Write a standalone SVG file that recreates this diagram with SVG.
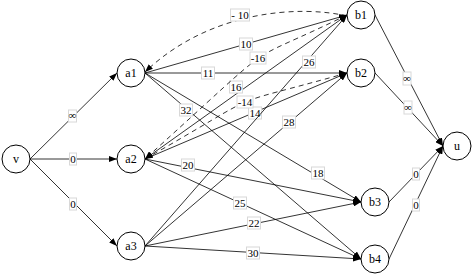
<svg xmlns="http://www.w3.org/2000/svg" width="473" height="277" viewBox="0 0 473 277">
<style>
.n circle{fill:#fff;stroke:#000;stroke-width:1}
.n text{font-family:"Liberation Serif","Times New Roman",serif;font-size:12px;text-anchor:middle;fill:#000}
.e path{fill:none;stroke:#000;stroke-width:0.8;marker-end:url(#ah)}
.e .d{stroke-dasharray:5,4}
.e rect{fill:#fff;stroke:#d8d8d8;stroke-width:1}
.e text{font-family:"Liberation Serif","Times New Roman",serif;font-size:11px;text-anchor:middle;fill:#000}
</style>
<defs>
<marker id="ah" viewBox="0 0 8 6" refX="8" refY="3" markerWidth="8" markerHeight="6" markerUnits="userSpaceOnUse" orient="auto"><path d="M0,0L8,3L0,6z" fill="#000" stroke="none"/></marker>
</defs>
<rect width="473" height="277" fill="#fff"/>
<g id="connectors" class="e">
<g><path d="M30,159L117,73"/><rect x="68.5" y="110" width="8" height="12"/><text x="72.5" y="119">∞</text></g>
<g><path d="M30,159L117,159"/><rect x="69.5" y="153" width="7" height="12"/><text x="73" y="163">0</text></g>
<g><path d="M30,159L117,246"/><rect x="69.5" y="198" width="7" height="12"/><text x="73" y="208">0</text></g>
<g><path d="M145,73L347,15"/><rect x="239.5" y="38" width="13" height="12"/><text x="246" y="48">10</text></g>
<g><path d="M145,73L347,73"/><rect x="201.5" y="67" width="13" height="12"/><text x="208" y="77">11</text></g>
<g><path d="M145,73L361,202"/><rect x="311.5" y="167" width="13" height="12"/><text x="318" y="177">18</text></g>
<g><path d="M145,73L361,259"/><rect x="179.5" y="104" width="13" height="12"/><text x="186" y="114">32</text></g>
<g><path d="M145,159L347,15"/><rect x="229.5" y="81" width="13" height="12"/><text x="236" y="91">16</text></g>
<g><path d="M145,159L347,73"/><rect x="248.5" y="107" width="13" height="12"/><text x="255" y="117">14</text></g>
<g><path d="M145,159L361,202"/><rect x="181.5" y="159" width="13" height="12"/><text x="188" y="169">20</text></g>
<g><path d="M145,159L361,259"/><rect x="233.5" y="197" width="13" height="12"/><text x="240" y="207">25</text></g>
<g><path d="M145,246L347,15"/><rect x="302.5" y="56" width="13" height="12"/><text x="309" y="66">26</text></g>
<g><path d="M145,246L347,73"/><rect x="282.5" y="116" width="13" height="12"/><text x="289" y="126">28</text></g>
<g><path d="M145,246L361,202"/><rect x="247.5" y="217" width="13" height="12"/><text x="254" y="227">22</text></g>
<g><path d="M145,246L361,259"/><rect x="246.5" y="247" width="13" height="12"/><text x="253" y="257">30</text></g>
<g><path class="d" d="M347,16C300,5 210,10 145,72"/><rect x="230.5" y="9" width="19" height="12"/><text x="240" y="19">- 10</text></g>
<g><path class="d" d="M347,15C233,70.8 291,27.4 145,159"/><rect x="250" y="52" width="16" height="12"/><text x="258" y="62">-16</text></g>
<g><path class="d" d="M347,73C213,110.7 276,84.6 145,159"/><rect x="237" y="96" width="16" height="12"/><text x="245" y="106">-14</text></g>
<g><path d="M375,15L443,146"/><rect x="403" y="72" width="8" height="13"/><text x="407" y="82">∞</text></g>
<g><path d="M375,73L443,146"/><rect x="404" y="101" width="8" height="13"/><text x="408" y="111">∞</text></g>
<g><path d="M389,202L443,146"/><rect x="412.5" y="168" width="7" height="12"/><text x="416" y="178">0</text></g>
<g><path d="M389,259L443,146"/><rect x="412.5" y="199" width="7" height="12"/><text x="416" y="209">0</text></g>
</g>
<g id="v" class="n"><circle cx="16" cy="159" r="14"/><text x="16" y="163">v</text></g>
<g id="a1" class="n"><circle cx="131" cy="73" r="14"/><text x="131" y="77">a1</text></g>
<g id="a2" class="n"><circle cx="131" cy="159" r="14"/><text x="131" y="163">a2</text></g>
<g id="a3" class="n"><circle cx="131" cy="246" r="14"/><text x="131" y="250">a3</text></g>
<g id="b1" class="n"><circle cx="361" cy="15" r="14"/><text x="361" y="19">b1</text></g>
<g id="b2" class="n"><circle cx="361" cy="73" r="14"/><text x="361" y="77">b2</text></g>
<g id="b3" class="n"><circle cx="375" cy="202" r="14"/><text x="375" y="206">b3</text></g>
<g id="b4" class="n"><circle cx="375" cy="259" r="14"/><text x="375" y="263">b4</text></g>
<g id="u" class="n"><circle cx="457" cy="146" r="14"/><text x="457" y="150">u</text></g>
</svg>
